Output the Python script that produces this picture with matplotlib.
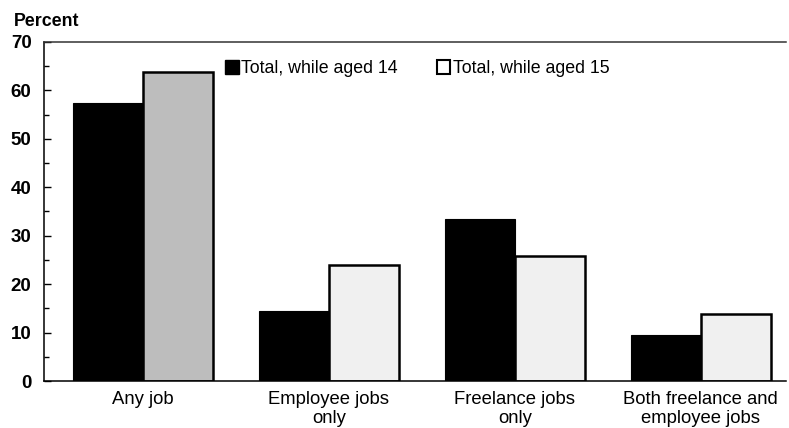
import matplotlib
matplotlib.use("Agg")
import matplotlib.pyplot as plt
from matplotlib.patches import Patch
import numpy as np

categories = ["Any job", "Employee jobs\nonly", "Freelance jobs\nonly", "Both freelance and\nemployee jobs"]
series_names = ["Total, while aged 14", "Total, while aged 15"]
aged14 = [57.4, 14.4, 33.5, 9.5]
aged15 = [63.8, 23.9, 25.9, 13.8]
yticks = [0, 10, 20, 30, 40, 50, 60, 70]

plt.rcParams['font.family'] = ['Liberation Sans', 'DejaVu Sans']

fig = plt.figure(figsize=(7.89, 4.28), dpi=100)
ax = fig.add_axes([0.0558, 0.1098, 0.940, 0.7922])

x = np.arange(len(categories))
w = 0.376
ax.bar(x - w / 2, aged14, width=w, color="black", edgecolor="black", linewidth=0.8)
light_colors = ["#bdbdbd", "#f0f0f0", "#f0f0f0", "#f0f0f0"]
ax.bar(x + w / 2, aged15, width=w, color=light_colors, edgecolor="black", linewidth=1.8)

ax.set_xlim(-0.532, 3.457)
ax.set_ylim(0, 70)
ax.set_yticks(yticks)
ax.set_yticks(np.arange(5, 70, 10), minor=True)
ax.set_yticklabels([str(t) for t in yticks], fontsize=13.5, fontweight="bold")
ax.tick_params(axis="y", which="major", direction="in", length=5, width=1, pad=9)
ax.tick_params(axis="y", which="minor", direction="in", length=3.5, width=1)
ax.set_xticks(x)
ax.set_xticklabels(categories, fontsize=13.3, linespacing=1.15)
ax.tick_params(axis="x", length=0, pad=7)

ax.spines["right"].set_visible(False)
for s in ["left", "top", "bottom"]:
    ax.spines[s].set_linewidth(1.1)
ax.spines["top"].set_color("#333333")

fig.text(0.017, 0.949, "Percent", fontsize=12.8, fontweight="bold", ha="left", va="center")

handles = [Patch(facecolor="black", edgecolor="black"),
           Patch(facecolor="white", edgecolor="black", linewidth=1.5)]
ax.legend(handles, series_names, loc="upper left", bbox_to_anchor=(0.235, 0.968),
          ncol=2, frameon=False, fontsize=12.8, handlelength=0.75, handleheight=0.8,
          handletextpad=0.15, columnspacing=2.2, borderaxespad=0)

fig.savefig("out.png", dpi=100)
